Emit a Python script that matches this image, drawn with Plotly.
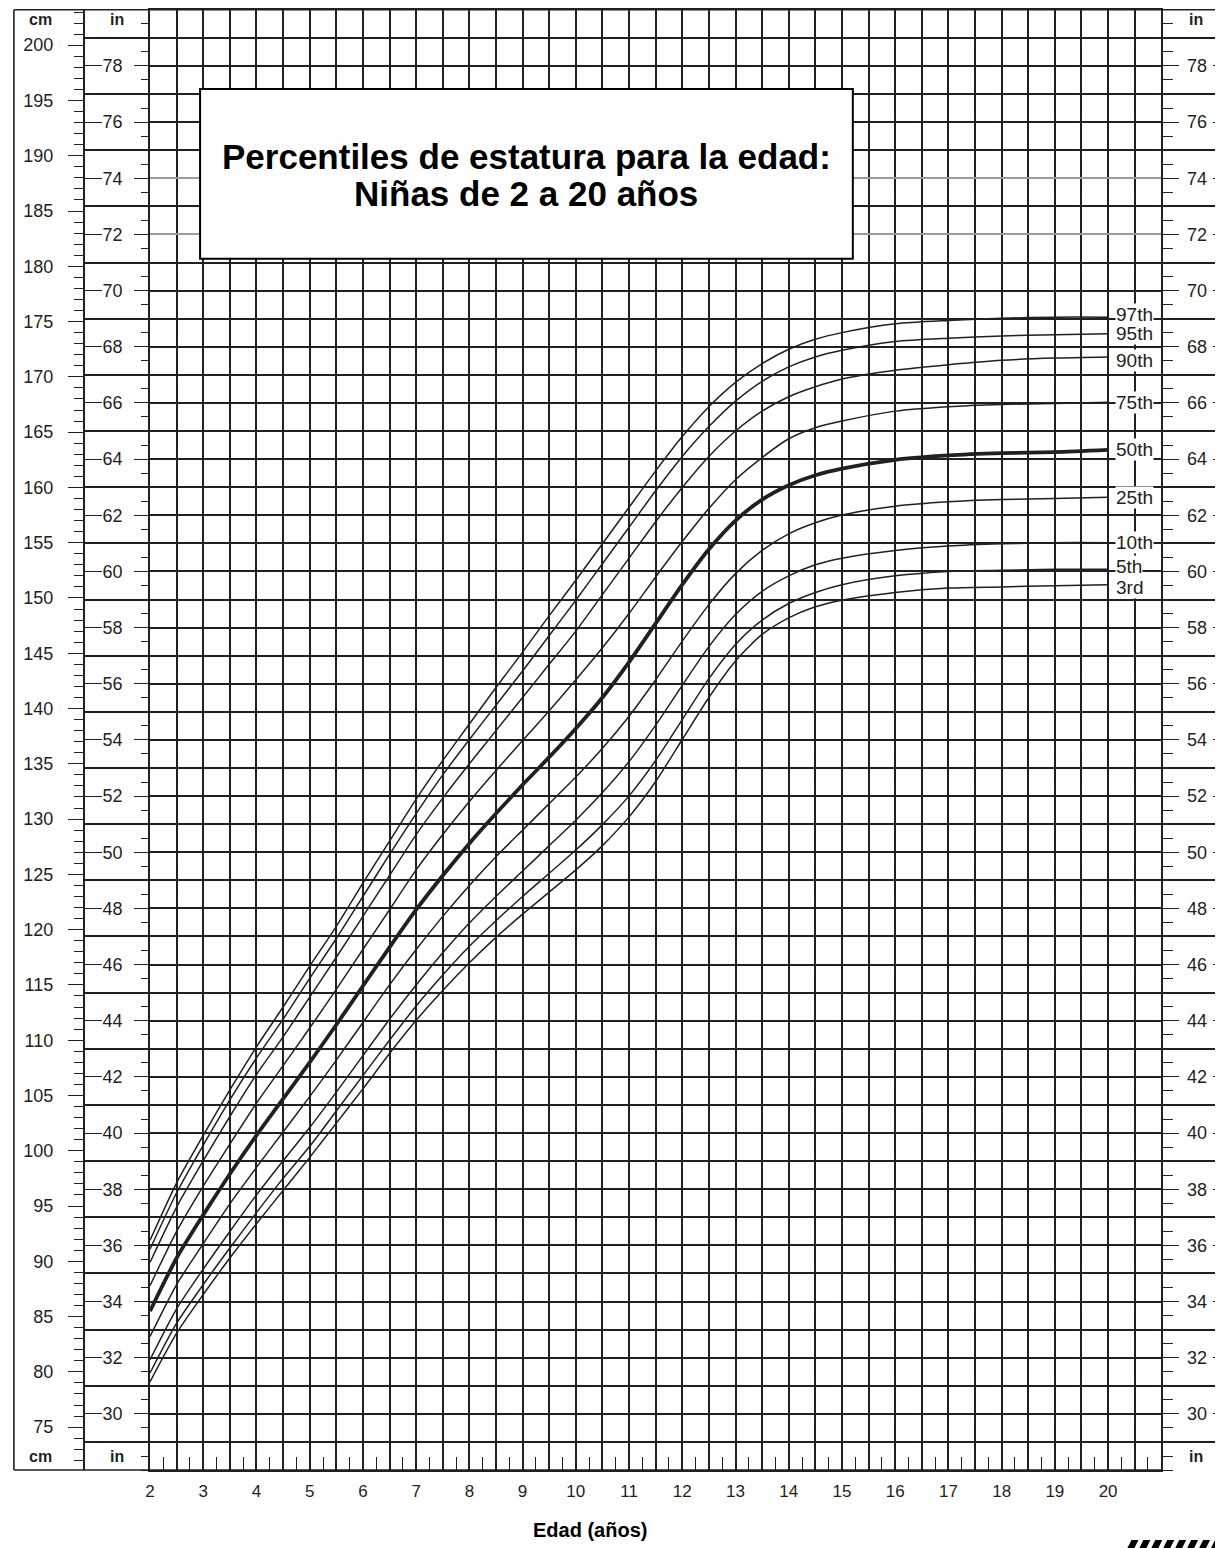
import plotly.graph_objects as go

# page body has an 8px margin; the figure is laid out in page pixels minus that offset
OFF = 8
W, H = 1223 - OFF, 1548 - OFF
INK = "#231f20"
FONT = "Liberation Sans, Arial, Helvetica, sans-serif"

# ---------------- data (stature in cm) ----------------
ages = [2, 2.5, 3, 3.5, 4, 4.5, 5, 5.5, 6, 6.5, 7, 7.5, 8, 8.5, 9, 9.5, 10, 10.5,
        11, 11.5, 12, 12.5, 13, 13.5, 14, 14.5, 15, 16, 17, 18, 19, 20]

p3 = [79.1, 83.5, 87.0, 90.3, 93.4, 96.4, 99.4, 102.5, 105.6, 108.8, 111.8, 114.5,
      117.0, 119.3, 121.4, 123.4, 125.4, 127.6, 130.2, 133.4, 137.2, 141.0, 144.3,
      146.7, 148.2, 149.2, 149.8, 150.5, 150.9, 151.0, 151.1, 151.2]
p5 = [79.9, 84.4, 87.9, 91.2, 94.4, 97.5, 100.4, 103.6, 106.8, 110.0, 113.1, 115.9,
      118.5, 120.8, 123.0, 125.1, 127.2, 129.5, 132.1, 135.3, 139.0, 142.7, 145.8,
      148.0, 149.5, 150.5, 151.2, 152.0, 152.4, 152.5, 152.6, 152.6]
p10 = [81.1, 85.7, 89.3, 92.7, 96.0, 99.1, 102.1, 105.3, 108.6, 111.9, 115.0, 117.9,
       120.6, 123.0, 125.3, 127.6, 129.9, 132.4, 135.2, 138.5, 142.1, 145.6, 148.5,
       150.6, 152.0, 153.0, 153.6, 154.3, 154.7, 154.9, 155.0, 155.0]
p25 = [83.2, 87.9, 91.6, 95.2, 98.5, 101.7, 104.9, 108.2, 111.6, 115.0, 118.2, 121.2,
       124.0, 126.6, 129.0, 131.4, 133.8, 136.4, 139.3, 142.6, 146.1, 149.4, 152.2,
       154.3, 155.8, 156.8, 157.5, 158.3, 158.7, 158.9, 159.0, 159.1]
p50 = [85.5, 90.3, 94.2, 97.9, 101.4, 104.7, 108.0, 111.4, 114.9, 118.4, 121.8, 124.9,
       127.8, 130.5, 133.1, 135.6, 138.2, 141.0, 144.2, 147.7, 151.2, 154.4, 157.0,
       158.9, 160.2, 161.1, 161.7, 162.5, 162.9, 163.1, 163.2, 163.4]
p75 = [87.8, 92.7, 96.8, 100.6, 104.3, 107.7, 111.1, 114.6, 118.2, 121.8, 125.4, 128.6,
       131.6, 134.4, 137.1, 139.8, 142.6, 145.5, 148.6, 151.9, 155.1, 158.1, 160.7,
       162.7, 164.4, 165.4, 166.0, 166.9, 167.3, 167.5, 167.6, 167.7]
p90 = [89.9, 94.9, 99.1, 103.1, 106.9, 110.3, 113.9, 117.5, 121.2, 124.9, 128.6, 131.9,
       135.0, 138.0, 141.0, 144.0, 147.0, 150.3, 153.6, 156.9, 160.0, 162.8, 165.1,
       166.9, 168.2, 169.1, 169.8, 170.6, 171.1, 171.5, 171.7, 171.8]
p95 = [91.1, 96.2, 100.5, 104.6, 108.4, 111.9, 115.6, 119.2, 123.0, 126.8, 130.5, 134.0,
       137.2, 140.3, 143.4, 146.6, 149.8, 153.1, 156.4, 159.7, 162.8, 165.5, 167.8,
       169.6, 170.9, 171.8, 172.4, 173.2, 173.5, 173.7, 173.8, 173.9]
p97 = [91.9, 97.1, 101.4, 105.5, 109.4, 113.0, 116.7, 120.3, 124.2, 128.0, 131.8, 135.3,
       138.6, 141.9, 145.1, 148.4, 151.6, 154.9, 158.2, 161.5, 164.6, 167.3, 169.5,
       171.2, 172.5, 173.4, 174.0, 174.8, 175.1, 175.3, 175.4, 175.4]

series = [("3rd", p3), ("5th", p5), ("10th", p10), ("25th", p25), ("75th", p75),
          ("90th", p90), ("95th", p95), ("97th", p97), ("50th", p50)]

age_labels = list(range(2, 21))
cm_labels = list(range(75, 201, 5))
inch_even = list(range(30, 80, 2))
inch_odd = list(range(29, 80, 2))
inch_all = list(range(28, 81))
grey_inches = [72, 74]

title_line1 = "Percentiles de estatura para la edad:"
title_line2 = "Niñas de 2 a 20 años"
x_title = "Edad (años)"

# small vertical nudges (px) for crowded percentile labels
label_shift = {"97th": 3, "90th": -4, "5th": 3, "3rd": -3}

# ---------------- geometry helpers (page pixels -> paper) ----------------
CM = 2.54
X_RANGE = [2, 21]
Y_IN = [28, 80]
Y_CM = [28 * CM, 80 * CM]


def px(p):
    return (p - OFF) / W


def py(p):
    return 1 - (p - OFF) / H


X_DOM = [px(145.7), px(1162)]
Y_DOM = [py(1470), py(OFF + 0.8)]

fig = go.Figure()
for name, vals in series:
    fig.add_trace(go.Scatter(
        x=ages, y=vals, mode="lines", name=name, hoverinfo="skip", showlegend=False,
        line=dict(color=INK, width=3.8 if name == "50th" else 1.5, shape="spline", smoothing=0.7),
    ))

# empty traces so that every auxiliary axis gets drawn
for xa, ya in [("x2", "y"), ("x3", "y"), ("x", "y2"), ("x", "y3"), ("x", "y4"), ("x", "y5"),
               ("x", "y6"), ("x", "y7"), ("x", "y8"), ("x", "y9")]:
    fig.add_trace(go.Scatter(x=[None], y=[None], xaxis=xa, yaxis=ya, mode="lines",
                             hoverinfo="skip", showlegend=False))

tickfont = dict(family=FONT, size=18, color=INK)
common = dict(zeroline=False, showgrid=False, fixedrange=True)

layout = dict(
    width=W, height=H, autosize=False,
    margin=dict(l=0, r=0, t=0, b=0, pad=0),
    paper_bgcolor="white", plot_bgcolor="white",
    showlegend=False,
    font=dict(family=FONT, color=INK),
    xaxis=dict(domain=X_DOM, range=X_RANGE, tickmode="linear", tick0=2, dtick=0.5,
               showgrid=True, gridcolor=INK, gridwidth=1.5, showticklabels=False, ticks="",
               zeroline=False, showline=True, mirror=True, linecolor=INK, linewidth=1.6,
               fixedrange=True),
    xaxis2=dict(overlaying="x", anchor="y", side="bottom", range=X_RANGE, tickmode="array",
                tickvals=age_labels, ticktext=[str(a) for a in age_labels], ticks="outside",
                ticklen=6, tickcolor="rgba(0,0,0,0)", showline=False,
                tickfont=dict(family=FONT, size=17, color=INK), **common),
    xaxis3=dict(overlaying="x", anchor="y", side="bottom", range=X_RANGE, tickmode="array",
                tickvals=[a + 0.25 for a in [x * 0.5 for x in range(4, 42)]],
                ticks="inside", ticklen=13, tickwidth=1.4, tickcolor=INK,
                showticklabels=False, showline=False, **common),
    yaxis=dict(domain=Y_DOM, range=Y_CM, tickmode="array",
               tickvals=[i * CM for i in inch_all if i not in grey_inches],
               showgrid=True, gridcolor=INK, gridwidth=1.5, showticklabels=False, ticks="",
               zeroline=False, showline=True, mirror=True, linecolor=INK, linewidth=1.6,
               fixedrange=True),
    yaxis2=dict(overlaying="y", anchor="x", range=Y_CM, tickmode="array",
                tickvals=[i * CM for i in grey_inches], showgrid=True, gridcolor="#9c9c9c",
                gridwidth=1.5, showticklabels=False, ticks="", zeroline=False,
                showline=False, fixedrange=True),
    # cm ruler
    yaxis3=dict(overlaying="y", anchor="free", position=px(79), side="left", range=Y_CM,
                tickmode="array", tickvals=cm_labels, ticktext=[str(c) for c in cm_labels],
                ticks="outside", ticklen=15, tickwidth=1.4, tickcolor=INK,
                showline=True, linecolor=INK, linewidth=1.6, tickfont=tickfont,
                ticklabelstandoff=11,
                minor=dict(tickmode="linear", tick0=0, dtick=1, ticks="outside", ticklen=9,
                           tickwidth=1.3, tickcolor=INK, showgrid=False),
                **common),
    # inch labels left
    yaxis4=dict(overlaying="y", anchor="free", position=px(145.7), side="left", range=Y_IN,
                tickmode="array", tickvals=inch_even, ticktext=[str(i) for i in inch_even],
                ticks="outside", ticklen=16, tickwidth=1.4, tickcolor=INK, showline=False,
                tickfont=tickfont, ticklabelstandoff=8,
                minor=dict(tickmode="linear", tick0=0, dtick=0.5, ticks="outside", ticklen=9,
                           tickwidth=1.3, tickcolor=INK, showgrid=False),
                **common),
    yaxis5=dict(overlaying="y", anchor="free", position=px(145.7), side="left", range=Y_IN,
                tickmode="array", tickvals=inch_odd, ticks="outside", ticklen=67,
                tickwidth=1.5, tickcolor=INK, showticklabels=False, showline=False, **common),
    yaxis6=dict(overlaying="y", anchor="free", position=px(97), side="left", range=Y_IN,
                tickmode="array", tickvals=inch_even, ticks="outside", ticklen=18,
                tickwidth=1.4, tickcolor=INK, showticklabels=False, showline=False, **common),
    # inch labels right
    yaxis7=dict(overlaying="y", anchor="free", position=px(1162), side="right", range=Y_IN,
                tickmode="array", tickvals=inch_even, ticktext=[str(i) for i in inch_even],
                ticks="outside", ticklen=17, tickwidth=1.4, tickcolor=INK, showline=False,
                tickfont=tickfont, ticklabelstandoff=4,
                minor=dict(tickmode="linear", tick0=0, dtick=0.5, ticks="outside", ticklen=11,
                           tickwidth=1.3, tickcolor=INK, showgrid=False),
                **common),
    yaxis8=dict(overlaying="y", anchor="free", position=px(1162), side="right", range=Y_IN,
                tickmode="array", tickvals=inch_odd, ticks="outside", ticklen=62,
                tickwidth=1.5, tickcolor=INK, showticklabels=False, showline=False, **common),
    yaxis9=dict(overlaying="y", anchor="free", position=px(1213), side="right", range=Y_IN,
                tickmode="array", tickvals=inch_even, ticks="outside", ticklen=11,
                tickwidth=1.4, tickcolor=INK, showticklabels=False, showline=False, **common),
)
fig.update_layout(**layout)

shapes = []
LEFT = px(OFF + 0.9)
# outer frame
shapes.append(dict(type="line", xref="paper", yref="paper", x0=LEFT, x1=1.0, y0=Y_DOM[1], y1=Y_DOM[1],
                   line=dict(color=INK, width=1.6), layer="above"))
shapes.append(dict(type="line", xref="paper", yref="paper", x0=LEFT, x1=LEFT, y0=Y_DOM[0], y1=Y_DOM[1],
                   line=dict(color=INK, width=1.6), layer="above"))
shapes.append(dict(type="line", xref="paper", yref="paper", x0=LEFT, x1=X_DOM[1], y0=Y_DOM[0], y1=Y_DOM[0],
                   line=dict(color=INK, width=1.6), layer="above"))
# title box
shapes.append(dict(type="rect", xref="paper", yref="paper", x0=px(196), x1=px(852), y0=py(258), y1=py(88),
                   fillcolor="white", line=dict(color="black", width=2), layer="above"))
# logo fragment (bottom right)
for k in range(8):
    x0 = 1128 + k * 12
    path = "M {a},{b} L {c},{b} L {d},{e} L {f},{e} Z".format(
        a=px(x0), b=py(1548), c=px(x0 + 7), d=px(x0 + 11), e=py(1540), f=px(x0 + 4))
    shapes.append(dict(type="path", xref="paper", yref="paper", path=path,
                       fillcolor="black", line=dict(width=0), layer="above"))
fig.update_layout(shapes=shapes)

ann = []
for name, vals in series:
    ann.append(dict(x=20.13, y=vals[-1], xref="x", yref="y", text=name, showarrow=False,
                    xanchor="left", yanchor="middle", bgcolor="white", borderpad=0,
                    yshift=label_shift.get(name, 0),
                    font=dict(family=FONT, size=19, color=INK)))
# title
for txt, yy in [(title_line1, 156), (title_line2, 193)]:
    ann.append(dict(x=px(524), y=py(yy), xref="paper", yref="paper",
                    text="<b>" + txt + "</b>",
                    showarrow=False, xanchor="center", yanchor="middle",
                    font=dict(family=FONT, size=35, color="black")))
# corner unit labels
for (xx, yy, t) in [(36, 19, "cm"), (113, 19, "in"), (1197, 19, "in"),
                    (36, 1456, "cm"), (113, 1456, "in"), (1197, 1456, "in")]:
    ann.append(dict(x=px(xx), y=py(yy), xref="paper", yref="paper", text="<b>" + t + "</b>",
                    showarrow=False, xanchor="center", yanchor="middle",
                    font=dict(family=FONT, size=16, color=INK)))
ann.append(dict(x=px(588), y=py(1530), xref="paper", yref="paper", text="<b>" + x_title + "</b>",
                showarrow=False, xanchor="center", yanchor="middle",
                font=dict(family=FONT, size=20, color="black")))
fig.update_layout(annotations=ann)

fig.write_html("out.html", config={"displayModeBar": False})
